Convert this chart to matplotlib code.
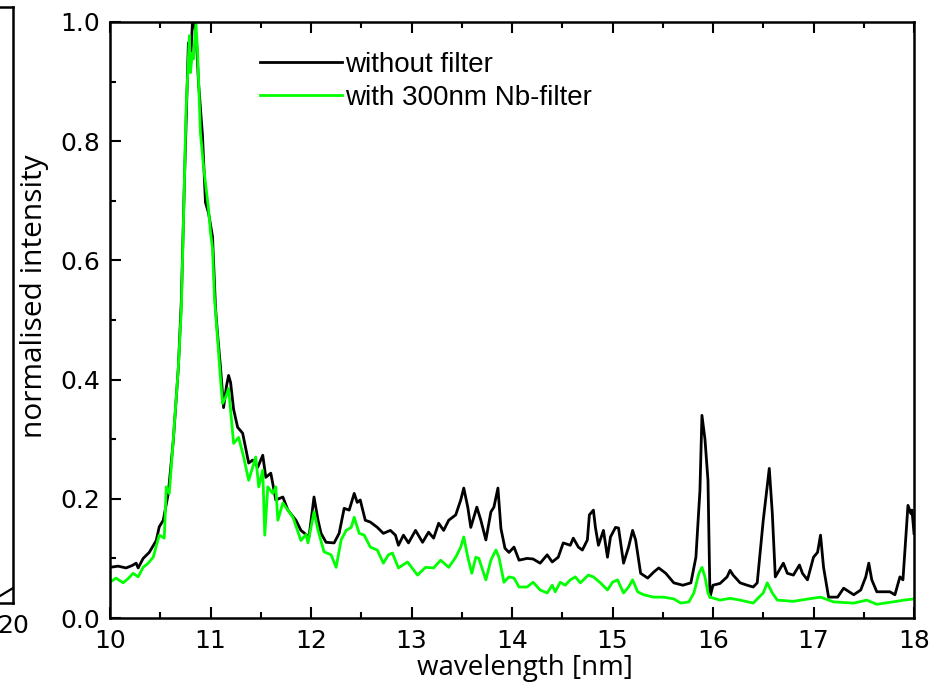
import matplotlib
matplotlib.use('Agg')
import matplotlib.pyplot as plt
import numpy as np
from matplotlib.ticker import MultipleLocator

# spectrum without filter
wl_black = [10.00, 10.08, 10.16, 10.22, 10.26, 10.28, 10.33, 10.39, 10.46, 10.49,
            10.53, 10.58, 10.63, 10.68, 10.71, 10.74, 10.76, 10.78, 10.80, 10.82,
            10.84, 10.86, 10.88, 10.92, 10.95, 10.98, 11.00, 11.02, 11.05, 11.07,
            11.10, 11.13, 11.16, 11.18, 11.20, 11.23, 11.27, 11.32, 11.38, 11.42,
            11.47, 11.52, 11.55, 11.60, 11.65, 11.72, 11.77, 11.85, 11.90, 11.98,
            12.03, 12.07, 12.10, 12.15, 12.23, 12.28, 12.33, 12.38, 12.43, 12.46,
            12.49, 12.54, 12.59, 12.66, 12.72, 12.79, 12.84, 12.87, 12.92, 12.97,
            13.04, 13.11, 13.17, 13.22, 13.27, 13.32, 13.37, 13.44, 13.49, 13.52,
            13.56, 13.59, 13.65, 13.69, 13.74, 13.79, 13.82, 13.86, 13.89, 13.93,
            13.97, 14.02, 14.07, 14.15, 14.21, 14.28, 14.35, 14.40, 14.46, 14.51,
            14.58, 14.61, 14.66, 14.70, 14.75, 14.77, 14.81, 14.83, 14.86, 14.91,
            14.95, 14.98, 15.03, 15.06, 15.11, 15.16, 15.20, 15.23, 15.28, 15.35,
            15.41, 15.46, 15.53, 15.61, 15.70, 15.78, 15.83, 15.87, 15.89, 15.92,
            15.95, 15.97, 16.00, 16.07, 16.14, 16.17, 16.20, 16.27, 16.34, 16.40,
            16.44, 16.50, 16.56, 16.59, 16.62, 16.70, 16.74, 16.80, 16.86, 16.89,
            16.94, 17.00, 17.04, 17.07, 17.10, 17.15, 17.24, 17.30, 17.40, 17.47,
            17.52, 17.55, 17.58, 17.63, 17.70, 17.76, 17.81, 17.86, 17.89, 17.94,
            17.97, 17.98, 18.00]
int_black = [0.085, 0.087, 0.084, 0.088, 0.092, 0.084, 0.100, 0.110, 0.130, 0.153,
             0.164, 0.209, 0.298, 0.420, 0.533, 0.730, 0.850, 0.965, 0.930, 0.998,
             1.000, 0.970, 0.900, 0.810, 0.697, 0.680, 0.660, 0.640, 0.520, 0.477,
             0.420, 0.353, 0.390, 0.407, 0.395, 0.350, 0.320, 0.310, 0.260, 0.265,
             0.253, 0.273, 0.236, 0.243, 0.198, 0.203, 0.181, 0.164, 0.147, 0.136,
             0.203, 0.164, 0.142, 0.127, 0.126, 0.142, 0.184, 0.181, 0.209, 0.194,
             0.198, 0.164, 0.161, 0.152, 0.142, 0.147, 0.139, 0.122, 0.139, 0.126,
             0.147, 0.127, 0.144, 0.134, 0.159, 0.147, 0.164, 0.173, 0.198, 0.218,
             0.186, 0.152, 0.186, 0.164, 0.131, 0.178, 0.186, 0.218, 0.150, 0.117,
             0.110, 0.119, 0.097, 0.100, 0.099, 0.092, 0.106, 0.094, 0.102, 0.126,
             0.122, 0.134, 0.119, 0.114, 0.131, 0.173, 0.181, 0.152, 0.122, 0.147,
             0.102, 0.136, 0.152, 0.151, 0.092, 0.119, 0.147, 0.131, 0.075, 0.067,
             0.077, 0.084, 0.075, 0.059, 0.055, 0.059, 0.102, 0.214, 0.340, 0.300,
             0.231, 0.035, 0.055, 0.058, 0.069, 0.080, 0.072, 0.059, 0.055, 0.052,
             0.059, 0.164, 0.251, 0.176, 0.069, 0.092, 0.075, 0.072, 0.089, 0.075,
             0.064, 0.102, 0.110, 0.139, 0.085, 0.035, 0.035, 0.050, 0.039, 0.047,
             0.069, 0.092, 0.064, 0.044, 0.044, 0.044, 0.039, 0.069, 0.064, 0.189,
             0.175, 0.181, 0.142]

# spectrum with 300nm Nb filter
wl_green = [10.00, 10.06, 10.13, 10.18, 10.23, 10.28, 10.33, 10.38, 10.43, 10.49,
            10.54, 10.56, 10.59, 10.63, 10.68, 10.71, 10.74, 10.755, 10.77, 10.79,
            10.80, 10.82, 10.83, 10.855, 10.87, 10.90, 10.93, 10.95, 10.98, 11.00,
            11.02, 11.04, 11.07, 11.10, 11.12, 11.15, 11.18, 11.23, 11.28, 11.33,
            11.38, 11.45, 11.48, 11.52, 11.54, 11.57, 11.62, 11.65, 11.67, 11.72,
            11.82, 11.90, 11.95, 11.97, 12.03, 12.07, 12.13, 12.20, 12.25, 12.30,
            12.35, 12.40, 12.43, 12.48, 12.53, 12.59, 12.66, 12.72, 12.77, 12.81,
            12.87, 12.96, 13.06, 13.14, 13.22, 13.29, 13.37, 13.44, 13.49, 13.52,
            13.56, 13.60, 13.64, 13.67, 13.74, 13.79, 13.84, 13.87, 13.92, 13.97,
            14.02, 14.07, 14.15, 14.21, 14.28, 14.35, 14.40, 14.43, 14.48, 14.53,
            14.58, 14.63, 14.68, 14.76, 14.81, 14.88, 14.95, 15.00, 15.05, 15.11,
            15.16, 15.20, 15.25, 15.31, 15.41, 15.51, 15.61, 15.68, 15.76, 15.81,
            15.86, 15.89, 15.92, 15.95, 15.97, 16.07, 16.17, 16.27, 16.40, 16.50,
            16.54, 16.59, 16.64, 16.80, 16.95, 17.07, 17.20, 17.40, 17.53, 17.63,
            17.79, 17.90, 18.00]
int_green = [0.060, 0.067, 0.059, 0.066, 0.075, 0.069, 0.085, 0.092, 0.102, 0.139,
             0.134, 0.220, 0.209, 0.300, 0.420, 0.520, 0.730, 0.843, 0.900, 0.977,
             0.915, 0.948, 0.938, 0.998, 0.955, 0.814, 0.759, 0.730, 0.687, 0.647,
             0.620, 0.536, 0.470, 0.400, 0.360, 0.370, 0.385, 0.293, 0.303, 0.270,
             0.231, 0.270, 0.220, 0.248, 0.139, 0.220, 0.209, 0.220, 0.164, 0.193,
             0.169, 0.130, 0.140, 0.126, 0.178, 0.147, 0.111, 0.106, 0.085, 0.131,
             0.147, 0.152, 0.169, 0.142, 0.139, 0.119, 0.114, 0.092, 0.106, 0.109,
             0.084, 0.094, 0.072, 0.085, 0.084, 0.097, 0.085, 0.102, 0.119, 0.136,
             0.102, 0.075, 0.102, 0.100, 0.064, 0.097, 0.114, 0.102, 0.060, 0.069,
             0.067, 0.052, 0.052, 0.060, 0.047, 0.042, 0.055, 0.044, 0.060, 0.055,
             0.064, 0.069, 0.059, 0.072, 0.069, 0.059, 0.047, 0.060, 0.064, 0.042,
             0.052, 0.064, 0.044, 0.039, 0.035, 0.035, 0.032, 0.025, 0.027, 0.042,
             0.075, 0.085, 0.069, 0.042, 0.035, 0.030, 0.033, 0.030, 0.025, 0.042,
             0.059, 0.042, 0.030, 0.028, 0.032, 0.035, 0.027, 0.025, 0.030, 0.023,
             0.027, 0.030, 0.032]

# piece of the neighbouring panel that is cut off at the left edge
frag_x = [19.0, 20.0]
frag_y = [0.010, 0.025]

fig = plt.figure(figsize=(9.43, 6.97), dpi=100)

# neighbouring panel, mostly outside the figure
axl = fig.add_axes([-0.30, 1 - 603 / 697., 0.30 + 13 / 943., (603 - 7) / 697.])
axl.plot(frag_x, frag_y, color='black', lw=1.6)
axl.set_xlim(0, 20)
axl.set_ylim(0, 1)
axl.set_xticks([20])
axl.set_xticklabels(['20'])
axl.set_yticks([])
axl.tick_params(axis='x', direction='in', length=0, labelsize=18, pad=8)
for sp in axl.spines.values():
    sp.set_linewidth(1.8)

# main panel
ax = fig.add_axes([110 / 943., 1 - 618 / 697., 804 / 943., 596 / 697.])
ax.plot(wl_black, int_black, color='black', lw=2.0, label='without filter')
ax.plot(wl_green, int_green, color='#00ff00', lw=2.0, label='with 300nm Nb-filter')

ax.set_xlim(10, 18)
ax.set_ylim(0, 1.0)
ax.xaxis.set_major_locator(MultipleLocator(1))
ax.xaxis.set_minor_locator(MultipleLocator(0.5))
ax.yaxis.set_major_locator(MultipleLocator(0.2))
ax.yaxis.set_minor_locator(MultipleLocator(0.1))
ax.set_yticklabels(['%.1f' % v for v in ax.get_yticks()])
ax.tick_params(which='both', direction='in', top=True, right=False, width=1.5)
ax.tick_params(which='major', length=8, labelsize=18)
ax.tick_params(axis='x', which='major', pad=8)
ax.tick_params(axis='y', which='major', pad=7)
ax.tick_params(which='minor', length=4.5)
for sp in ax.spines.values():
    sp.set_linewidth(1.8)

ax.set_xlabel('wavelength [nm]', fontsize=20, family='Open Sans')
ax.set_ylabel('normalised intensity', fontsize=21.5, family='Open Sans')
ax.xaxis.set_label_coords(0.516, -0.06)
ax.yaxis.set_label_coords(-0.076, 0.54)

leg = ax.legend(loc='upper left', bbox_to_anchor=((260 - 110) / 804., (618 - 52) / 596.),
                frameon=False, borderpad=0, borderaxespad=0, handlelength=2.95,
                handletextpad=0.12, labelspacing=0.26,
                prop={'family': 'Liberation Sans', 'size': 20})
for h in leg.get_lines():
    h.set_linewidth(2.0)

plt.savefig('out.png', dpi=100)
